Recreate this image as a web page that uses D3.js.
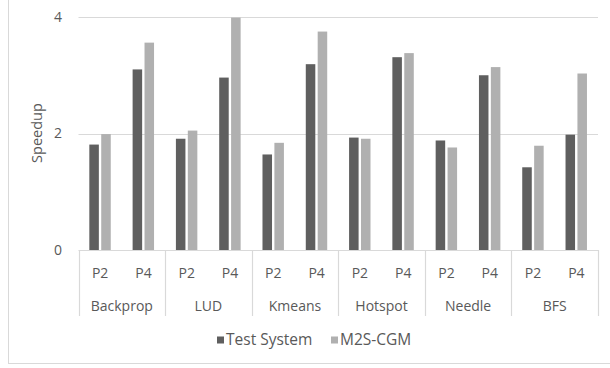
<!DOCTYPE html>
<html><head><meta charset="utf-8">
<script src="https://cdn.jsdelivr.net/npm/d3@7"></script>
<style>body{margin:0;background:#fff}svg{display:block}text{font-family:"Open Sans",Lato,sans-serif;fill:#595959}</style>
</head><body><svg id="c" width="610" height="368"></svg>
<script>
const groups = ["Backprop","LUD","Kmeans","Hotspot","Needle","BFS"];
const subs = ["P2","P4"];
const seriesNames = ["Test System","M2S-CGM"];
const testSystem = [1.81,3.10, 1.91,2.96, 1.64,3.19, 1.93,3.31, 1.88,3.00, 1.42,1.98];
const m2sCgm     = [1.99,3.56, 2.05,3.99, 1.84,3.75, 1.91,3.38, 1.76,3.14, 1.79,3.03];
const yTicks = [0,2,4];
const colors = ["#5f5f5f","#b0b0b0"];

const svg = d3.select("#c");
const grid = "#d9d9d9";
const fs = "14px";
svg.append("rect").attr("x",8.5).attr("y",-5).attr("width",620).attr("height",368.5).attr("fill","#fff").attr("stroke",grid);

const x0 = 78.5, x1 = 598;
const y = d3.scaleLinear().domain([0,4]).range([250,17]);
const gx = d3.scaleBand().domain(groups).range([x0,x1]);
const sx = d3.scaleBand().domain(subs).range([0,gx.bandwidth()]);
const bx = d3.scaleBand().domain(seriesNames).range([sx.bandwidth()*0.25, sx.bandwidth()*0.745]).paddingInner(0.2);

// gridlines
svg.selectAll("line.g").data(yTicks.filter(d=>d>0)).join("line")
  .attr("x1",x0).attr("x2",x1).attr("y1",d=>Math.round(y(d))+0.5).attr("y2",d=>Math.round(y(d))+0.5)
  .attr("stroke",grid).attr("stroke-width",1.2);
svg.selectAll("text.yt").data(yTicks).join("text")
  .attr("x",62).attr("y",d=>y(d)).attr("dy","0.35em").attr("text-anchor","end")
  .style("font-size",fs).text(d=>d);

const data = [];
groups.forEach((g,gi)=>subs.forEach((s,si)=>{
  data.push({g,s,k:seriesNames[0],v:testSystem[gi*2+si],c:colors[0]});
  data.push({g,s,k:seriesNames[1],v:m2sCgm[gi*2+si],c:colors[1]});
}));
svg.selectAll("rect.b").data(data).join("rect")
  .attr("x",d=>gx(d.g)+sx(d.s)+bx(d.k)).attr("width",bx.bandwidth())
  .attr("y",d=>y(d.v)).attr("height",d=>y(0)-y(d.v)).attr("fill",d=>d.c);

// axis baseline & separators
svg.append("line").attr("x1",x0).attr("x2",x1).attr("y1",250.5).attr("y2",250.5).attr("stroke",grid).attr("stroke-width",1.2);
const seps = groups.map(g=>gx(g)).concat([x1]);
svg.selectAll("line.s").data(seps).join("line")
  .attr("x1",d=>Math.round(d)+0.5).attr("x2",d=>Math.round(d)+0.5).attr("y1",250).attr("y2",316)
  .attr("stroke",grid).attr("stroke-width",1.2);

// sub labels
const subLab = [];
groups.forEach(g=>subs.forEach(s=>subLab.push({g,s})));
svg.selectAll("text.sl").data(subLab).join("text")
  .attr("x",d=>gx(d.g)+sx(d.s)+sx.bandwidth()/2).attr("y",273).attr("dy","0.35em")
  .attr("text-anchor","middle").style("font-size",fs).text(d=>d.s);
svg.selectAll("text.gl").data(groups).join("text")
  .attr("x",d=>gx(d)+gx.bandwidth()/2).attr("y",306).attr("dy","0.35em")
  .attr("text-anchor","middle").style("font-size",fs).text(d=>d);

// y title
svg.append("text").attr("transform","translate(42,133) rotate(-90)").attr("text-anchor","middle")
  .style("font-size","14.5px").text("Speedup");

// legend
const legX = [217,331];
const lg = svg.selectAll("g.l").data(seriesNames).join("g").attr("transform",(d,i)=>`translate(${legX[i]},340)`);
lg.append("rect").attr("x",0).attr("y",-3.5).attr("width",7).attr("height",7).attr("fill",(d,i)=>colors[i]);
lg.append("text").attr("x",9).attr("dy","0.35em").style("font-size","15.5px").text(d=>d);
</script></body></html>
